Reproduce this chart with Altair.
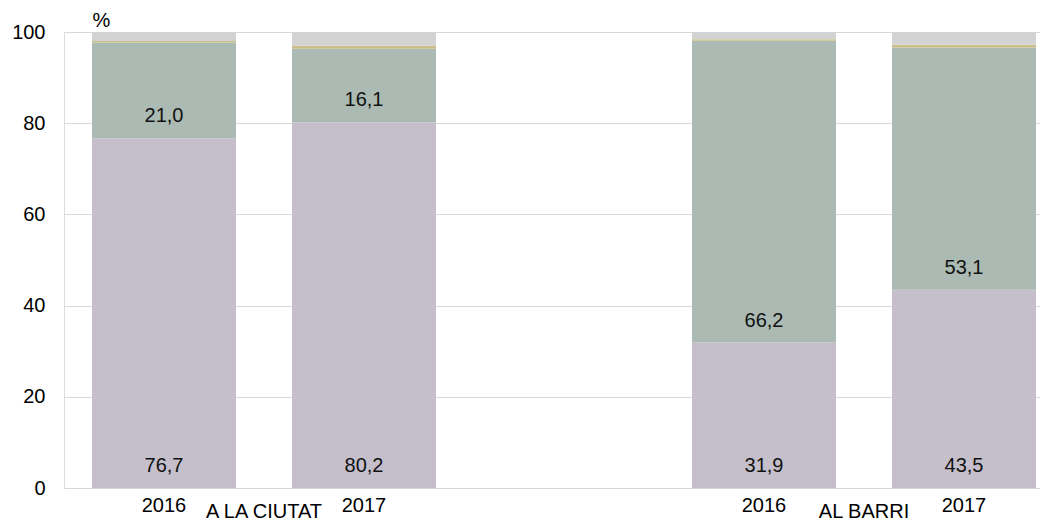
import altair as alt
import pandas as pd

# ---- data ----
bar_keys = ["C2016", "C2017", "B2016", "B2017"]
years = ["2016", "2017", "2016", "2017"]
groups = ["A LA CIUTAT", "A LA CIUTAT", "AL BARRI", "AL BARRI"]
series = ["s1", "s2", "s3", "s4"]
series_colors = ["#c5bfcc", "#abbab2", "#cdbf8a", "#d3d3d3"]
s1_values = [76.7, 80.2, 31.9, 43.5]   # purple (bottom)
s2_values = [21.0, 16.1, 66.2, 53.1]   # green
s3_values = [0.3, 0.7, 0.3, 0.6]       # yellow (thin)
s4_values = [2.0, 3.0, 1.6, 2.8]       # grey (top)
x_domain = ["C2016", "C2017", "gap", "B2016", "B2017"]
y_ticks = [0, 20, 40, 60, 80, 100]
group_labels = ["A LA CIUTAT", "AL BARRI"]
group_anchor = ["C2017", "B2017"]

rows = []
for i, k in enumerate(bar_keys):
    for j, (s, vals) in enumerate(zip(series, [s1_values, s2_values, s3_values, s4_values])):
        rows.append({"key": k, "year": years[i], "group": groups[i],
                     "series": s, "order": j, "value": vals[i],
                     "labelled": j < 2})
df = pd.DataFrame(rows)
gdf = pd.DataFrame({"key": group_anchor, "label": group_labels})

FONT = "Liberation Sans"

x_scale = alt.Scale(domain=x_domain, range=[0, 1000], paddingInner=0.28, paddingOuter=0.14)
y_scale = alt.Scale(domain=[0, 100], nice=False)

label_expr = ("datum.value == 'gap' ? '' : slice(datum.value, 1)")

base = alt.Chart(df).transform_stack(
    stack="value", groupby=["key"], as_=["y0", "y1"],
    sort=[alt.SortField("order", order="ascending")]
)

bars = base.mark_bar().encode(
    x=alt.X("key:N", scale=x_scale, sort=x_domain,
            axis=alt.Axis(title=None, labelExpr=label_expr, ticks=False, tickSize=0,
                          domain=False, labelPadding=23, labelBaseline="alphabetic",
                          labelFontSize=20, labelFont=FONT, labelColor="#000000",
                          labelAngle=0, grid=False)),
    y=alt.Y("y0:Q", scale=y_scale,
            axis=alt.Axis(title="%", values=y_ticks, ticks=False, tickSize=0, domain=False,
                          labelPadding=19, labelFontSize=20, labelFont=FONT,
                          labelColor="#000000", gridColor="#d9d9d9", gridWidth=1.2,
                          titleAngle=0, titleAlign="left", titleBaseline="alphabetic",
                          titleX=28, titleY=-6, titleFontSize=20, titleFont=FONT,
                          titleFontWeight="normal", titleColor="#000000")),
    y2="y1:Q",
    color=alt.Color("series:N", scale=alt.Scale(domain=series, range=series_colors), legend=None),
)

labels = base.transform_filter("datum.labelled").transform_calculate(
    txt="replace(format(datum.value, '.1f'), '.', ',')"
).mark_text(fontSize=20, font=FONT, color="#111111", baseline="middle", dy=-22).encode(
    x=alt.X("key:N", scale=x_scale, sort=x_domain),
    y=alt.Y("y0:Q", scale=y_scale),
    text="txt:N",
)

glabels = alt.Chart(gdf).mark_text(fontSize=20, font=FONT, color="#000000",
                                   baseline="alphabetic", dx=-100).encode(
    x=alt.X("key:N", scale=x_scale, sort=x_domain),
    y=alt.value(486),
    text="label:N",
)

chart = alt.layer(bars, labels, glabels).properties(
    width=976, height=456,
    autosize=alt.AutoSizeParams(type="none"),
    padding={"left": 56, "top": 24, "right": 0, "bottom": 34},
).configure_view(stroke=None).configure(background="#ffffff")

chart.save("out.html", embed_options={"renderer": "svg", "actions": False})
